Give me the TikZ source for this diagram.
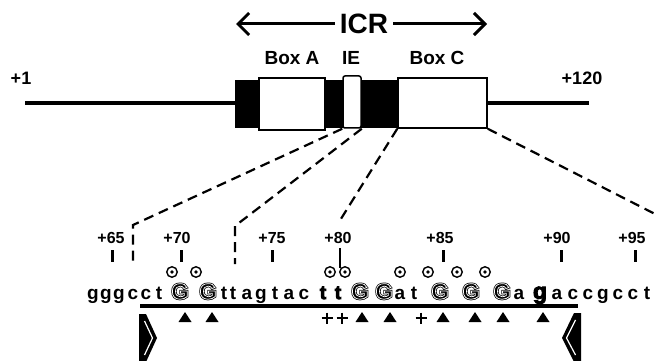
\documentclass[tikz,border=0pt]{standalone}
\usepackage{fontspec}
\setmainfont{Liberation Sans}
\usetikzlibrary{arrows.meta}
\newcommand\TrFat{\special{pdf:literal direct 2 Tr 2.2 w}}
\newcommand\TrHeavy{\special{pdf:literal direct 2 Tr 0.9 w}}
\newcommand\TrLine{\special{pdf:literal direct 1 Tr 0.75 w}}
\newcommand\TrNorm{\special{pdf:literal direct 0 Tr}}
\begin{document}
\begin{tikzpicture}[x=1pt,y=-1pt,
  lbl/.style={font=\fontsize{16}{16}\bfseries\selectfont, inner sep=0},
  boxlbl/.style={font=\fontsize{19}{19}\bfseries\selectfont, inner sep=0},
  endlbl/.style={font=\fontsize{18}{18}\bfseries\selectfont, inner sep=0},
  seq/.style={font=\fontsize{19}{19}\bfseries\selectfont, inner sep=0, anchor=base},
  bigg/.style={font=\fontsize{23}{23}\bfseries\selectfont, inner sep=0, anchor=base},
  Gout/.style={font=\fontsize{22}{22}\bfseries\selectfont, inner sep=0, anchor=base},
  Gin/.style={font=\fontsize{22}{22}\bfseries\selectfont, text=white, inner sep=0, anchor=base},
  wbox/.style={draw, fill=white, line width=1.5pt, inner sep=0},
  dsh/.style={line width=2.2pt, dash pattern=on 10pt off 6pt},
  arr/.style={line width=3pt, -{Straight Barb[length=11pt,width=22pt]}},
  tick/.style={line width=3pt},
  circ/.style={circle, draw, line width=1.4pt, minimum size=10.5pt, inner sep=0,
    path picture={\fill (path picture bounding box.center) circle (1.8pt);}},
]
\useasboundingbox (0,0) rectangle (657,361);
% ---- top: ICR ----
\node[font=\fontsize{28}{28}\bfseries\selectfont, inner sep=5pt] (icr) at (364,24) {ICR};
\coordinate (aL) at (236,24);
\coordinate (aR) at (487,24);
\draw[arr] (icr.west) -- (aL);
\draw[arr] (icr.east) -- (aR);
% ---- gene line ----
\coordinate (L0) at (25,103);
\coordinate (L1) at (589,103);
\draw[line width=4pt] (L0) -- (L1);
\node[endlbl] (p1) at (21,78) {+1};
\node[endlbl] (p120) at (582,78) {+120};
\fill (235,80) rectangle (398,128);
\node[wbox, minimum width=66pt, minimum height=52pt] (boxA) at (292,104) {};
\node[wbox, minimum width=18pt, minimum height=52pt, rounded corners=2pt] (ie) at (352,102) {};
\node[wbox, minimum width=89pt, minimum height=50pt] (boxC) at (442.5,103) {};
\node[boxlbl] (tA) at (292,58) {Box A};
\node[boxlbl] (tIE) at (351,58) {IE};
\node[boxlbl] (tC) at (437,58) {Box C};
% ---- dashed projections ----
\coordinate (d1a) at (133,225); \coordinate (d1b) at (133,263);
\coordinate (d2a) at (235,226); \coordinate (d2b) at (235,264);
\coordinate (d3) at (339,222);
\coordinate (d4) at (657,215);
\draw[dsh] (ie.south west) -- (d1a) -- (d1b);
\draw[dsh] (ie.south east) -- (d2a) -- (d2b);
\draw[dsh] (boxC.south west) -- (d3);
\draw[dsh] (boxC.south east) -- (d4);
% ---- numbering ----
\foreach \n/\x/\t in {65/111/112,70/177/181,75/272/272,85/440/443,90/557/561,95/632/635}{
  \node[lbl] (n\n) at (\x,238) {+\n};
  \draw[tick] (\t,250) -- (\t,262);
}
\node[lbl] (n80) at (338,238) {+80};
\draw[line width=1.5pt] (340,248) -- (340,268);
% ---- circles ----
\foreach \x [count=\i] in {172,196,330,345,400,428,457,485}
  \node[circ] (c\i) at (\x,272) {};
% ---- sequence ----
\foreach \x/\c [count=\i] in {93/g,106/g,119/g,133/c,146/c,159/t,224/t,233/t,247/a,261/g,275/t,289/a,304/c,400/a,414/t,519/a,557/a,573/c,588/c,603/g,618/c,633/c,647/t}
  \node[seq] (s\i) at (\x,299) {\c};
\foreach \x [count=\i] in {323,338}
  \node[seq] (tt\i) at (\x,299) {\TrHeavy t\TrNorm};
\foreach \x [count=\i] in {180,208,360,384,440,471,502}{
  \node[Gout] (G\i) at (\x,299) {\TrFat G\TrNorm};
  \node[Gin] (Gw\i) at (\x,299) {\TrLine G\TrNorm};
}
\node[bigg] (g89) at (540,299) {\TrHeavy g\TrNorm};
% ---- underline ----
\coordinate (u0) at (140,306);
\coordinate (u1) at (578,306);
\draw[line width=3.5pt] (u0) -- (u1);
% ---- triangles and pluses ----
\foreach \x in {185,212,362,390,443,475,503,543}
  \fill (\x-6.5,322) -- (\x+6.5,322) -- (\x,312) -- cycle;
\foreach \x in {327,342,421}
  \draw[line width=2pt] (\x-5.5,318) -- (\x+5.5,318) (\x,312.5) -- (\x,323.5);
% ---- brackets ----
\fill (139,314) -- (146,314) -- (157,338) -- (146,362) -- (139,362) -- cycle;
\draw[white, line width=1.2pt] (144.5,321) -- (152.5,338) -- (144.5,355);
\fill (581,313) -- (574,313) -- (562,338) -- (574,362) -- (581,362) -- cycle;
\draw[white, line width=1.2pt] (575.5,320) -- (566.5,338) -- (575.5,355);
\end{tikzpicture}
\end{document}
